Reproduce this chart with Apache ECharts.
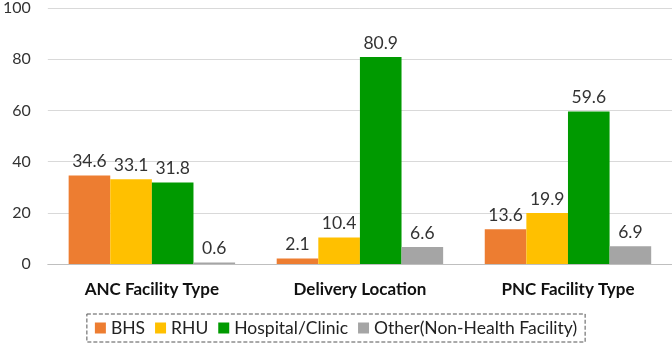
<!DOCTYPE html>
<html><head><meta charset="utf-8">
<script src="https://cdn.jsdelivr.net/npm/echarts@6/dist/echarts.min.js"></script>
<style>html,body{margin:0;padding:0;background:#fff}#c{width:672px;height:357px}</style>
</head><body><div id="c"></div>
<script>
const categories = ['ANC Facility Type', 'Delivery Location', 'PNC Facility Type'];
const seriesNames = ['BHS', 'RHU', 'Hospital/Clinic', 'Other(Non-Health Facility)'];
const bhs = [34.6, 2.1, 13.6];
const rhu = [33.1, 10.4, 19.9];
const hospital = [31.8, 80.9, 59.6];
const other = [0.6, 6.6, 6.9];
const yTicks = [0, 20, 40, 60, 80, 100];
const colors = ['#ED7D31', '#FFC000', '#009A00', '#A5A5A5'];
const FONT = 'Lato, "Open Sans", sans-serif';
const chart = echarts.init(document.getElementById('c'));
const mk = (name, data, i) => ({
  name, type: 'bar', data, barGap: '0%', barCategoryGap: '20%',
  itemStyle: { color: colors[i] },
  label: { show: true, position: 'top', distance: 5, color: '#333', fontSize: 17.5, fontFamily: FONT, formatter: p => p.value.toFixed(1) }
});
chart.setOption({
  animation: false,
  textStyle: { fontFamily: FONT },
  grid: { left: 44, right: 0, top: 8, bottom: 93 },
  legend: {
    bottom: 15, left: 'center', itemWidth: 11, itemHeight: 11, itemGap: 10, icon: 'rect',
    borderColor: '#555', borderWidth: 1, borderType: 'dashed', padding: [5, 8],
    textStyle: { fontSize: 17.5, color: '#222', fontFamily: FONT },
    data: seriesNames
  },
  xAxis: {
    type: 'category', data: categories,
    axisLine: { lineStyle: { color: '#BFBFBF' } }, axisTick: { show: false },
    axisLabel: { fontSize: 17, fontWeight: 'bold', color: '#111', margin: 17, fontFamily: FONT }
  },
  yAxis: {
    type: 'value', min: yTicks[0], max: yTicks[yTicks.length - 1], interval: 20,
    axisLabel: { fontSize: 16, color: '#333', margin: 17, fontFamily: FONT },
    splitLine: { lineStyle: { color: '#D9D9D9' } },
    axisLine: { show: false }, axisTick: { show: false }
  },
  series: [mk(seriesNames[0], bhs, 0), mk(seriesNames[1], rhu, 1), mk(seriesNames[2], hospital, 2), mk(seriesNames[3], other, 3)]
});
</script></body></html>
